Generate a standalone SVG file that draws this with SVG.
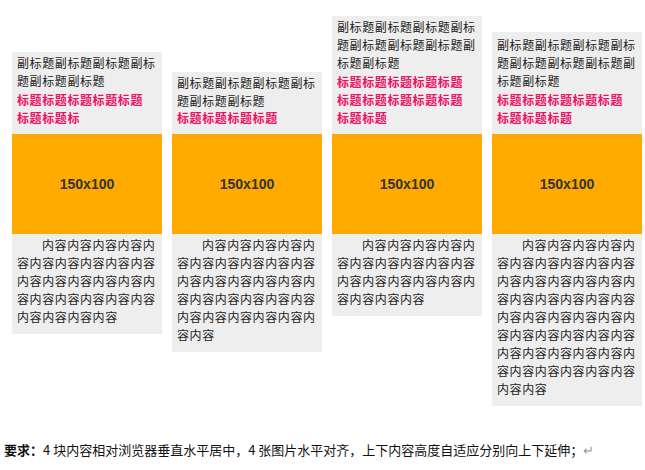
<svg xmlns="http://www.w3.org/2000/svg" width="645" height="470" viewBox="0 0 645 470">
<style>
text{font-family:"Noto Sans CJK SC","Liberation Sans",sans-serif;font-size:12px;letter-spacing:0.6px}
.bg{fill:#eeeeee}.img{fill:#ffaa00}
.sub{fill:#222}.ttl{fill:#ee1166;font-weight:bold}.ct{fill:#222}
.lbl{font-family:"Liberation Sans",Arial,sans-serif;font-size:14px;font-weight:bold;fill:#333;text-anchor:middle;letter-spacing:0}
</style>
<rect width="645" height="470" fill="#fff"/>
<g id="box1">
<rect class="bg" x="12" y="52" width="150" height="282"/>
<text class="sub" x="17" y="68">副标题副标题副标题副标</text>
<text class="sub" x="17" y="86">题副标题副标题</text>
<text class="ttl" x="17" y="105">标题标题标题标题标题</text>
<text class="ttl" x="17" y="123">标题标题标</text>
<rect class="img" x="12" y="134" width="150" height="100"/>
<text class="lbl" x="87" y="189">150x100</text>
<text class="ct" x="42" y="250">内容内容内容内容内</text>
<text class="ct" x="17" y="268">容内容内容内容内容内容</text>
<text class="ct" x="17" y="286">内容内容内容内容内容内</text>
<text class="ct" x="17" y="304">容内容内容内容内容内容</text>
<text class="ct" x="17" y="322">内容内容内容内容</text>
</g>
<g id="box2">
<rect class="bg" x="172" y="72" width="150" height="280"/>
<text class="sub" x="177" y="88">副标题副标题副标题副标</text>
<text class="sub" x="177" y="106">题副标题副标题</text>
<text class="ttl" x="177" y="123">标题标题标题标题</text>
<rect class="img" x="172" y="134" width="150" height="100"/>
<text class="lbl" x="247" y="189">150x100</text>
<text class="ct" x="202" y="250">内容内容内容内容内</text>
<text class="ct" x="177" y="268">容内容内容内容内容内容</text>
<text class="ct" x="177" y="286">内容内容内容内容内容内</text>
<text class="ct" x="177" y="304">容内容内容内容内容内容</text>
<text class="ct" x="177" y="322">内容内容内容内容内容内</text>
<text class="ct" x="177" y="340">容内容</text>
</g>
<g id="box3">
<rect class="bg" x="332" y="16" width="150" height="300"/>
<text class="sub" x="337" y="32">副标题副标题副标题副标</text>
<text class="sub" x="337" y="50">题副标题副标题副标题副</text>
<text class="sub" x="337" y="68">标题副标题</text>
<text class="ttl" x="337" y="87">标题标题标题标题标题</text>
<text class="ttl" x="337" y="105">标题标题标题标题标题</text>
<text class="ttl" x="337" y="123">标题标题</text>
<rect class="img" x="332" y="134" width="150" height="100"/>
<text class="lbl" x="407" y="189">150x100</text>
<text class="ct" x="362" y="250">内容内容内容内容内</text>
<text class="ct" x="337" y="268">容内容内容内容内容内容</text>
<text class="ct" x="337" y="286">内容内容内容内容内容内</text>
<text class="ct" x="337" y="304">容内容内容内容</text>
</g>
<g id="box4">
<rect class="bg" x="492" y="32" width="150" height="374"/>
<text class="sub" x="497" y="50">副标题副标题副标题副标</text>
<text class="sub" x="497" y="68">题副标题副标题副标题副</text>
<text class="sub" x="497" y="86">标题副标题</text>
<text class="ttl" x="497" y="105">标题标题标题标题标题</text>
<text class="ttl" x="497" y="123">标题标题标题</text>
<rect class="img" x="492" y="134" width="150" height="100"/>
<text class="lbl" x="567" y="189">150x100</text>
<text class="ct" x="522" y="250">内容内容内容内容内</text>
<text class="ct" x="497" y="268">容内容内容内容内容内容</text>
<text class="ct" x="497" y="286">内容内容内容内容内容内</text>
<text class="ct" x="497" y="304">容内容内容内容内容内容</text>
<text class="ct" x="497" y="322">内容内容内容内容内容内</text>
<text class="ct" x="497" y="340">容内容内容内容内容内容</text>
<text class="ct" x="497" y="358">内容内容内容内容内容内</text>
<text class="ct" x="497" y="376">容内容内容内容内容内容</text>
<text class="ct" x="497" y="394">内容内容</text>
</g>
<text x="4" y="455" style="font-size:13px;letter-spacing:0;fill:#111"><tspan font-weight="bold">要求：</tspan>4 块内容相对浏览器垂直水平居中，4 张图片水平对齐，上下内容高度自适应分别向上下延伸；<tspan fill="#999">↵</tspan></text>
</svg>
